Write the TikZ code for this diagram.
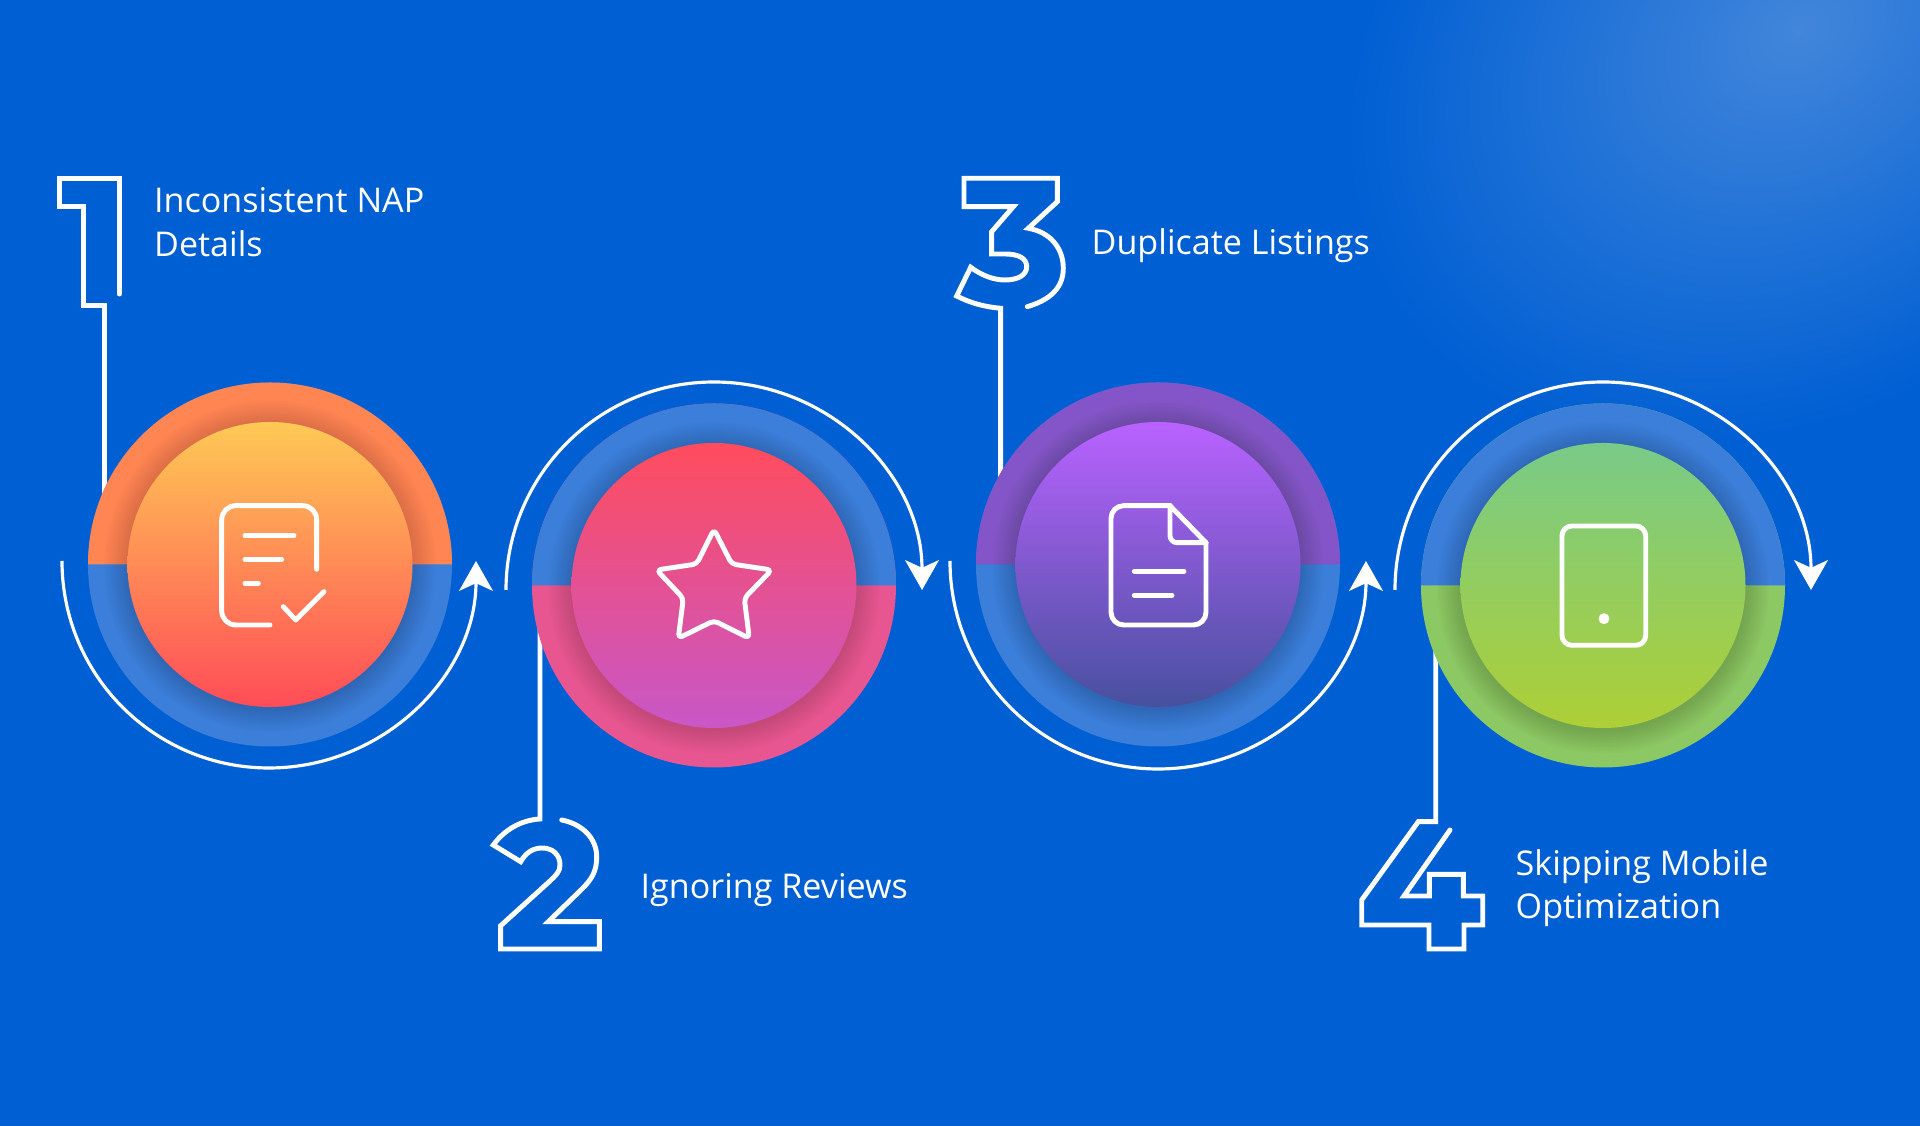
\documentclass[tikz,border=0pt]{standalone}
\usepackage{fontspec}
\setmainfont{Open Sans}
\usetikzlibrary{arrows.meta}
\definecolor{pagebg}{HTML}{005FD3}
\definecolor{glowc}{HTML}{4286DB}
\definecolor{ringblue}{HTML}{3B7FDA}
\definecolor{ringorange}{HTML}{FF8552}
\definecolor{ringpink}{HTML}{E85691}
\definecolor{ringpurple}{HTML}{8455C8}
\definecolor{ringgreen}{HTML}{8CC864}
\tikzset{
  digit/.style={white,line width=1.4pt,line cap=round},
  looparrow/.style={white,line width=.9pt,-{Stealth[length=8.5pt,width=9.6pt,inset=2.2pt]}},
  icon/.style={white,line width=1.4pt,line cap=round,line join=round},
  caption/.style={white,font=\fontsize{9.7}{12.5}\selectfont,align=left,inner sep=0pt},
}
\begin{document}
\begin{tikzpicture}[x=.1mm,y=-.1mm]
\useasboundingbox (0,0) rectangle (1920,1126);
\fill[pagebg] (0,0) rectangle (1920,1126);
\begin{scope}
\clip (0,0) rectangle (1920,1126);
\shade[inner color=glowc,outer color=pagebg,transform canvas={rotate around={35:(1800,30)}}] (1800,30) ellipse (490 and 370);
\end{scope}

% leader lines and the big numerals
\draw[digit] (119.3,294)--(119.3,178.7)--(59.3,178.7)--(59.3,206.7)--(83.3,206.7)--(83.3,305.7)--(104.7,305.7)--(104.7,510);
\draw[digit] (540,620)--(540,819) .. controls (522,820) and (505,829) .. (493.3,845)--(520.7,861.7) .. controls (526,852) and (534,848) .. (542,848) .. controls (553,848) and (560,855) .. (560,865) .. controls (560,872) and (556,875) .. (550,881)--(500.7,925.7)--(500.7,949)--(599.3,949)--(599.3,921.7)--(548.3,921.7)--(582,889) .. controls (592,879) and (596.7,871) .. (596.7,857) .. controls (596.7,838) and (582,824) .. (561.7,820);
\draw[digit] (1027.3,306.7) .. controls (1050,300) and (1063.3,288) .. (1063.3,268.3) .. controls (1063.3,248) and (1050,232) .. (1028.3,228.3)--(1057.3,201.7)--(1057.3,178.3)--(964,178.3)--(964,206.7)--(1013.3,206.7)--(991.7,231.7)--(991.7,254)--(1005,254) .. controls (1018,254) and (1026.7,258) .. (1026.7,266.7) .. controls (1026.7,275) and (1018,280) .. (1005,280) .. controls (993,280) and (981,275) .. (970.7,267.3)--(956.7,296) .. controls (970,303) and (985,307) .. (1000.7,308.3)--(1000.7,495);
\draw[digit] (1435.7,640)--(1435.7,821.7)--(1418.3,821.7)--(1361.7,900)--(1361.7,925)--(1429,925)--(1429,949)--(1464,949)--(1464,925)--(1482.7,925)--(1482.7,896)--(1463.3,896)--(1463.3,874.3)--(1429.3,874.3)--(1429.3,896)--(1404,896)--(1450,830);

% discs
\foreach \cx/\cy/\ringtop/\ringbot/\diskA/\diskB in {
  270/564.5/ringorange/ringblue/FFC955/FF4C57,
  714/585.5/ringblue/ringpink/FF4C5D/C857C8,
  1158/564.5/ringpurple/ringblue/B962FF/47509E,
  1603/585.5/ringblue/ringgreen/78CB88/AECF36}{
  \fill[\ringbot] (\cx,\cy) circle (182);
  \fill[\ringtop] (\cx-182,\cy) arc (180:360:182)--cycle;
  \foreach \r in {2,4,...,24}
    \fill[black,fill opacity=.012] (\cx,\cy+2) circle (142+\r);
  \definecolor{diskTop}{HTML}{\diskA}
  \definecolor{diskBot}{HTML}{\diskB}
  \shade[top color=diskTop,bottom color=diskBot] (\cx,\cy) circle (142.5);
}

% loop arrows
\draw[looparrow] (62,561) arc (180:0:207);
\draw[looparrow] (506,590) arc (180:360:208);
\draw[looparrow] (950,561) arc (180:0:208);
\draw[looparrow] (1395,590) arc (180:360:208);

% icons
\draw[icon,rounded corners=4pt] (316.7,569.3)--(316.7,505.7)--(221.7,505.7)--(221.7,625)--(270,625);
\draw[icon] (245,535.7)--(294,535.7) (245,559.3)--(281.7,559.3) (245,583.3)--(258.3,583.3);
\draw[icon] (283.3,606.7)--(295.7,620)--(324,591.7);
\draw[icon,rounded corners=1.2pt] (714,529.3)--(731.7,564)--(771.7,570)--(744.3,598.3)--(749.3,638.3)--(714,620.7)--(678.3,638.3)--(683.3,598.3)--(656.7,570)--(696.7,564)--cycle;
\draw[icon,rounded corners=3.6pt] (1170,505.7)--(1111,505.7)--(1111,625)--(1206,625)--(1206,542.7);
\draw[icon,rounded corners=.6pt] (1206,542.7)--(1170,505.7);
\draw[icon,rounded corners=2pt] (1170,505.7)--(1170,542.7)--(1206,542.7);
\draw[icon] (1134.3,571.3)--(1184,571.3) (1134.3,595.3)--(1172,595.3);
\draw[icon,rounded corners=2.8pt] (1562,526) rectangle (1645.7,645.3);
\fill[white] (1604,618.7) circle (5.5);

% captions
\node[caption,anchor=base west] (napText) at (153.5,256.5) {Inconsistent NAP\\Details};
\node[caption,anchor=base west] (reviewText) at (640,899) {Ignoring Reviews};
\node[caption,anchor=base west] (listingText) at (1091,255) {Duplicate Listings};
\node[caption,anchor=base west] (mobileText) at (1515,919) {Skipping Mobile\\Optimization};
\end{tikzpicture}
\end{document}
